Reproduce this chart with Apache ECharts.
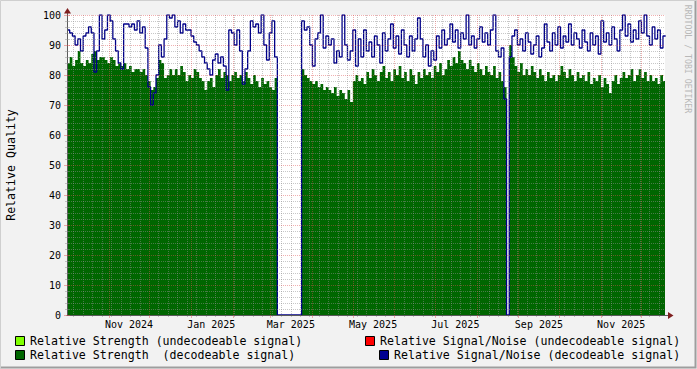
<!DOCTYPE html>
<html><head><meta charset="utf-8">
<script src="https://cdn.jsdelivr.net/npm/echarts@6/dist/echarts.min.js"></script>
<style>html,body{margin:0;padding:0;background:#f2f2f2}#c{width:697px;height:369px}</style>
</head><body><div id="c"></div>
<script>
// ---------------- data ----------------
const startYear = 2024, startMonth = 9, startDay = 1; // day 0 = 1 Oct 2024
const stepDays = 2;   // one value per 2 days
const xMaxDays = 443.5;
// Relative Strength (decodeable signal)
const strengthDecoded = [
84,86,83,85,88, 84,83,85,84,87, 88,85,86,86,85, 84,86,85,83,84,
83,84,82,83,81, 82,82,81,82,80, 78,75,76,79,85, 84,79,80,82,80,
82,80,83,81,78, 80,79,82,81,79, 78,75,78,79,76, 80,82,79,81,80,
78,80,81,79,80, 78,81,79,77,80, 78,76,79,77,78, 76,75,79,
0,0,0,0,0,0,0,0,0,
82,80,79,78,77, 78,76,77,75,76, 75,74,76,73,75, 74,72,75,71,78,
80,78,79,77,81, 79,82,80,78,81, 83,79,81,78,82, 80,83,79,81,78,
82,80,77,81,79, 82,80,81,79,83, 81,84,80,82,85, 83,86,84,88,85,
84,82,85,83,81, 84,82,80,83,81, 80,83,79,81,78,
76,0,90,86,
83,81,84,80,82, 80,83,81,79,82, 80,78,81,79,80, 78,80,83,81,79,
82,80,78,81,79, 80,78,81,77,79, 78,80,76,79,77, 74,78,80,77,79,
81,79,80,82,78, 80,82,79,81,78, 80,78,79,77,80,78
];
// Relative Signal/Noise (decodeable signal)
const snrDecoded = [
95,94,93,90,92, 88,93,94,96,94, 81,88,100,92,95, 100,98,92,88,84,
82,97,97,96,97, 95,98,94,96,89, 76,70,74,80,90, 86,92,100,99,100,
96,98,94,97,95, 95,93,91,90,88, 86,84,82,80,85, 87,84,86,83,75,
95,94,90,95,88, 77,82,88,98,96, 97,94,100,90,85, 94,98,86,
0,0,0,0,0,0,0,0,0,
98,95,96,90,83, 92,94,100,89,93, 90,92,84,88,86, 100,90,85,88,95,
83,92,86,95,88, 91,86,93,90,84, 94,88,92,97,89, 93,87,95,90,86,
93,88,92,99,92, 86,90,83,88,85, 93,89,95,90,92, 97,91,95,89,94,
92,100,90,93,89, 92,96,91,94,90, 95,100,88,86,89,
72,0,86,93,
95,90,92,88,94, 91,87,90,93,86, 89,97,91,88,94, 90,96,89,93,91,
97,90,94,92,89, 95,91,88,94,90, 93,87,98,91,94, 90,96,92,88,95,
100,93,97,91,95, 92,98,94,100,93, 90,96,92,95,89,93
];
const strengthUndecoded = [];
const snrUndecoded = [];
const yTickValues = [0,10,20,30,40,50,60,70,80,90,100];
const xLabelTexts = ['Nov 2024','Jan 2025','Mar 2025','May 2025','Jul 2025','Sep 2025','Nov 2025'];
const xLabelMonths = [[2024,10],[2025,0],[2025,2],[2025,4],[2025,6],[2025,8],[2025,10]];
const legendTexts = [
  'Relative Strength (undecodeable signal)',
  'Relative Signal/Noise (undecodeable signal)',
  'Relative Strength\u00a0 (decodeable signal)',
  'Relative Signal/Noise (decodeable signal)'
];
const legendColors = ['#80ff00','#ff0000','#006600','#000090'];

// ---------------- helpers ----------------
const DAY = 86400000;
const t0 = Date.UTC(startYear, startMonth, startDay);
const dayOf = (y, m, d) => Math.round((Date.UTC(y, m, d) - t0) / DAY);
const toSeries = arr => {
  const out = arr.map((v, i) => [i * stepDays, v]);
  out.push([arr.length * stepDays, arr[arr.length - 1]]);
  return out;
};
const monthStarts = [];
for (let k = 1; ; k++) {
  const d = dayOf(startYear, startMonth + k, 1);
  if (d > xMaxDays) break;
  monthStarts.push(d);
}
const weekDays = [];
for (let d = 0; d <= xMaxDays; d++) {
  const wd = new Date(t0 + d * DAY).getUTCDay();
  if (wd === 0 && monthStarts.indexOf(d) < 0) weekDays.push(d);
}
const labelDays = xLabelMonths.map(([y, m]) => dayOf(y, m, 1) + 15);

const FONT = 'DejaVu Sans Mono';
const minorCol = 'rgba(143,143,143,0.5)';
const majorCol = 'rgba(222,79,79,0.45)';
const axisCol = '#5a5a5a';
const arrowCol = '#7f1f1f';

const L = 67, T = 15, Rm = 32, Bm = 54;
const W = 697, H = 369;
const plotR = W - Rm, plotB = H - Bm;

// legend graphics
const legendPos = [
  {bx: 15, tx: 30, y: 341},
  {bx: 365, tx: 380, y: 341},
  {bx: 15, tx: 30, y: 355},
  {bx: 379, tx: 394, y: 355}
];
const graphics = [];
legendPos.forEach((p, i) => {
  graphics.push({type: 'rect', shape: {x: p.bx + 0.5, y: p.y - 4.5, width: 9, height: 9},
    style: {fill: legendColors[i], stroke: '#000', lineWidth: 1}, z: 20});
  graphics.push({type: 'text', x: p.tx, y: p.y,
    style: {text: legendTexts[i], font: '11.6px "DejaVu Sans Mono"', fill: '#000',
      textAlign: 'left', textVerticalAlign: 'middle'}, z: 20});
});
graphics.push({type: 'text', x: 11, y: 165, rotation: Math.PI / 2,
  style: {text: 'Relative Quality', font: '11.6px "DejaVu Sans Mono"', fill: '#000',
    textAlign: 'center', textVerticalAlign: 'middle'}, z: 20});
graphics.push({type: 'text', x: 688, y: 59, rotation: -Math.PI / 2,
  style: {text: 'RRDTOOL / TOBI OETIKER', font: '8.2px "DejaVu Sans Mono"', fill: '#b8b8b8',
    textAlign: 'center', textVerticalAlign: 'middle'}, z: 20});
graphics.push({type: 'polyline', shape: {points: [[0.5, H], [0.5, 0.5], [W, 0.5]]},
  style: {stroke: '#cfcfcf', lineWidth: 1, fill: null}, z: 20});
graphics.push({type: 'polyline', shape: {points: [[1, H - 1.5], [W - 1.5, H - 1.5], [W - 1.5, 1]]},
  style: {stroke: '#9e9e9e', lineWidth: 2, fill: null}, z: 20});
graphics.push({type: 'line', shape: {x1: L + 0.5, y1: T, x2: L + 0.5, y2: T - 3},
  style: {stroke: axisCol, lineWidth: 1}, z: 20});
graphics.push({type: 'polygon', shape: {points: [[L + 0.5, T - 7], [L - 3, T - 1.5], [L + 4, T - 1.5]]},
  style: {fill: arrowCol}, z: 21});
graphics.push({type: 'line', shape: {x1: plotR, y1: plotB + 0.5, x2: plotR + 3, y2: plotB + 0.5},
  style: {stroke: axisCol, lineWidth: 1}, z: 20});
graphics.push({type: 'polygon', shape: {points: [[plotR + 8.5, plotB + 0.5], [plotR + 3, plotB - 3], [plotR + 3, plotB + 4]]},
  style: {fill: arrowCol}, z: 21});

const chart = echarts.init(document.getElementById('c'), null, {renderer: 'svg', width: W, height: H});
chart.setOption({
  animation: false,
  backgroundColor: '#f2f2f2',
  textStyle: {fontFamily: FONT},
  grid: {left: L, top: T, right: Rm, bottom: Bm, show: true, backgroundColor: '#ffffff', borderWidth: 0},
  xAxis: [{
    type: 'value', min: 0, max: xMaxDays, position: 'bottom', z: 10,
    axisLine: {show: true, onZero: false, lineStyle: {color: axisCol, width: 1}},
    axisTick: {show: true, customValues: monthStarts, length: 3, lineStyle: {color: majorCol}},
    axisLabel: {customValues: labelDays, fontFamily: FONT, fontSize: 10, color: '#000', margin: 4,
      formatter: v => { const i = labelDays.indexOf(Math.round(v)); return i >= 0 ? xLabelTexts[i] : ''; }},
    splitLine: {show: true, lineStyle: {color: majorCol, width: 1, type: [1, 1]}}
  }, {
    type: 'value', min: 0, max: xMaxDays, position: 'bottom', z: 9,
    axisLine: {show: false},
    axisTick: {show: true, customValues: weekDays, length: 2, lineStyle: {color: minorCol}},
    axisLabel: {show: false},
    splitLine: {show: true, lineStyle: {color: minorCol, width: 1, type: [1, 1]}}
  }],
  yAxis: [{
    type: 'value', min: 0, max: 100, interval: 10, position: 'left', z: 10,
    axisLine: {show: true, lineStyle: {color: axisCol, width: 1}},
    axisTick: {show: true, length: 3, lineStyle: {color: majorCol}},
    minorTick: {show: true, splitNumber: 5, length: 2, lineStyle: {color: minorCol}},
    axisLabel: {fontFamily: FONT, fontSize: 10, color: '#000', margin: 6,
      formatter: v => yTickValues.indexOf(v) >= 0 ? String(v) : ''},
    splitLine: {show: true, lineStyle: {color: majorCol, width: 1, type: [1, 1]}},
    minorSplitLine: {show: true, lineStyle: {color: minorCol, width: 1, type: [1, 1]}}
  }, {
    type: 'value', min: 0, max: 100, interval: 10, position: 'right', z: 10,
    axisLine: {show: false},
    axisTick: {show: true, length: 3, inside: false, lineStyle: {color: majorCol}},
    minorTick: {show: true, splitNumber: 5, length: 2, lineStyle: {color: minorCol}},
    axisLabel: {show: false}, splitLine: {show: false}
  }],
  series: [
    {name: legendTexts[2], type: 'line', data: toSeries(strengthDecoded), step: 'end', symbol: 'none',
      lineStyle: {width: 0}, areaStyle: {color: '#006600', opacity: 1}, z: 2, silent: true},
    {name: legendTexts[0], type: 'line', data: strengthUndecoded, step: 'end', symbol: 'none',
      lineStyle: {width: 0}, areaStyle: {color: '#80ff00', opacity: 1}, z: 2, silent: true},
    {name: legendTexts[3], type: 'line', data: toSeries(snrDecoded), step: 'end', symbol: 'none',
      lineStyle: {color: '#000088', width: 1.3}, z: 3, silent: true},
    {name: legendTexts[1], type: 'line', data: snrUndecoded, step: 'end', symbol: 'none',
      lineStyle: {color: '#ff0000', width: 1}, z: 3, silent: true}
  ],
  graphic: graphics
});
</script>
</body></html>
